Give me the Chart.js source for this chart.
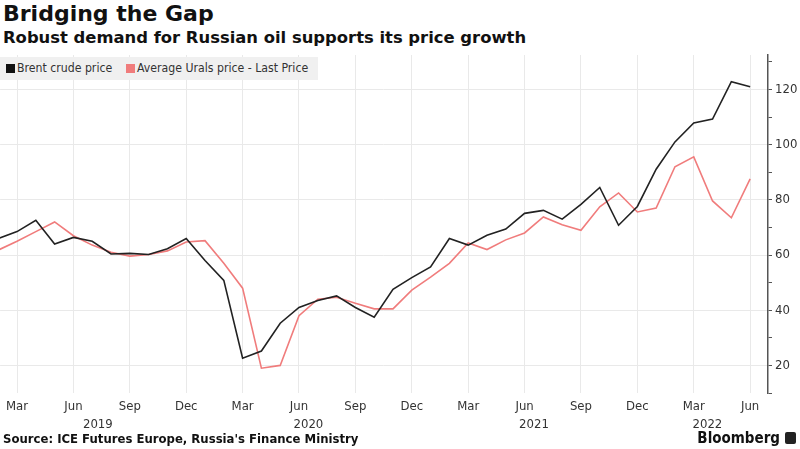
<!DOCTYPE html>
<html>
<head>
<meta charset="utf-8">
<script src="https://cdn.jsdelivr.net/npm/chart.js@4"></script>
<style>
  body { margin: 0; width: 800px; height: 449px; background: #fff; position: relative; overflow: hidden; font-family: 'DejaVu Sans', sans-serif; }
  #title { position: absolute; left: 3px; top: 1px; font-size: 22px; font-weight: bold; color: #111; }
  #subtitle { position: absolute; left: 3px; top: 28px; font-size: 16.4px; font-weight: bold; color: #111; }
  #chartBox { position: absolute; left: 0; top: 50px; width: 800px; height: 383px; }
  #legend { position: absolute; left: 0; top: 57px; width: 318px; height: 23px; background: #f0f0f0; font-family: 'DejaVu Sans Condensed', 'DejaVu Sans', sans-serif; font-size: 12.2px; color: #333; }
  .item { position: absolute; top: 4px; }
  .sw { display: inline-block; width: 9px; height: 9px; margin-right: 2px; vertical-align: -1px; }
  #source { position: absolute; left: 3px; top: 432px; font-size: 11.7px; font-weight: bold; color: #111; }
  #brand { position: absolute; right: 4px; top: 429px; font-family: 'DejaVu Sans Condensed', 'DejaVu Sans', sans-serif; font-size: 15px; font-weight: bold; color: #111; }
  #brand span { display: inline-block; width: 11px; height: 12px; background: #222; border-radius: 2px; margin-left: 5px; vertical-align: -1px; }
</style>
</head>
<body>
<div id="title">Bridging the Gap</div>
<div id="subtitle">Robust demand for Russian oil supports its price growth</div>
<div id="chartBox"><canvas id="chart"></canvas></div>
<div id="legend">
  <div class="item" style="left:6px"><span class="sw" style="background:#111"></span>Brent crude price</div>
  <div class="item" style="left:126px"><span class="sw" style="background:#f07c7c"></span>Average Urals price - Last Price</div>
</div>
<div id="source">Source: ICE Futures Europe, Russia's Finance Ministry</div>
<div id="brand">Bloomberg<span></span></div>

<script>
// monthly, Feb 2019 .. Jun 2022
const months = [
  '2019-02','2019-03','2019-04','2019-05','2019-06','2019-07','2019-08','2019-09','2019-10','2019-11','2019-12',
  '2020-01','2020-02','2020-03','2020-04','2020-05','2020-06','2020-07','2020-08','2020-09','2020-10','2020-11','2020-12',
  '2021-01','2021-02','2021-03','2021-04','2021-05','2021-06','2021-07','2021-08','2021-09','2021-10','2021-11','2021-12',
  '2022-01','2022-02','2022-03','2022-04','2022-05','2022-06'
];
const brent = [
  66, 68.5, 72.6, 64, 66.4, 65, 60.4, 60.6, 60.2, 62.3, 66,
  58, 50.8, 22.6, 25.2, 35.3, 41, 43.5, 45.2, 41, 37.5, 47.6, 51.8,
  55.7, 66, 63.6, 67.2, 69.4, 75.1, 76.2, 73, 78.4, 84.5, 70.8, 77.6,
  91.1, 101, 107.9, 109.3, 122.8, 121
];
const urals = [
  61.8, 65, 68.5, 72, 67, 63.6, 61, 59.6, 60.2, 61.5, 64.7,
  65.2, 57, 48, 19, 20, 38, 44, 44.7, 42.5, 40.5, 40.5, 47.3,
  52, 57, 64.4, 62, 65.5, 68, 73.8, 71, 69, 77.5, 82.5, 75.6,
  77, 92, 95.6, 79.6, 73.5, 87.6
];
const monthNames = ['Jan','Feb','Mar','Apr','May','Jun','Jul','Aug','Sep','Oct','Nov','Dec'];
const yTicks = [10, 20, 30, 40, 50, 60, 70, 80, 90, 100, 110, 120, 130];

// x = months since Jan 2019
const idx = m => (parseInt(m.slice(0, 4)) - 2019) * 12 + parseInt(m.slice(5)) - 1;
const xMin = 1.1, xMax = 41.95;

const quarterTicks = months.map(idx).filter(i => i % 3 === 2);
const years = [...new Set(months.map(m => m.slice(0, 4)))];
const yearTicks = years.map(y => {
  const a = Math.max(xMin, (y - 2019) * 12 - 0.5);
  const b = Math.min(xMax, (y - 2019) * 12 + 11.5);
  return { value: (a + b) / 2, label: y };
});

const fontAxis = { family: "'DejaVu Sans Condensed', 'DejaVu Sans', sans-serif", size: 13 };

new Chart(document.getElementById('chart'), {
  type: 'line',
  data: {
    datasets: [
      { label: 'Brent crude price', data: months.map((m, i) => ({ x: idx(m), y: brent[i] })),
        borderColor: '#222', borderWidth: 1.6, pointRadius: 0, tension: 0 },
      { label: 'Average Urals price - Last Price', data: months.map((m, i) => ({ x: idx(m), y: urals[i] })),
        borderColor: '#f07c7c', borderWidth: 1.6, pointRadius: 0, tension: 0 }
    ]
  },
  options: {
    responsive: true,
    maintainAspectRatio: false,
    animation: false,
    layout: { padding: { top: 5, left: 0, right: 0, bottom: 0 } },
    plugins: { legend: { display: false }, tooltip: { enabled: false } },
    scales: {
      x: {
        type: 'linear', position: 'bottom', min: xMin, max: xMax, weight: 0,
        afterBuildTicks: s => { s.ticks = quarterTicks.map(v => ({ value: v })); },
        afterFit: s => { s.height = 22; },
        ticks: { autoSkip: false, maxRotation: 0, padding: 6, color: '#333', font: fontAxis,
          callback: v => monthNames[((v % 12) + 12) % 12] },
        grid: { color: '#e9e9e9', lineWidth: 1, drawTicks: false },
        border: { display: false }
      },
      xYear: {
        type: 'linear', position: 'bottom', min: xMin, max: xMax, weight: 1,
        afterBuildTicks: s => { s.ticks = yearTicks.map(t => ({ value: t.value })); },
        afterFit: s => { s.height = 18; },
        ticks: { autoSkip: false, maxRotation: 0, padding: 2, color: '#333', font: fontAxis,
          callback: v => (yearTicks.find(t => Math.abs(t.value - v) < 1e-6) || {}).label },
        grid: { display: false, drawTicks: false },
        border: { display: false }
      },
      y: {
        position: 'right', min: 10, max: 132.5,
        afterBuildTicks: s => { s.ticks = yTicks.map(v => ({ value: v })); },
        afterFit: s => { s.width = 32; s.paddingTop = 0; },
        ticks: { padding: 3, color: '#333', font: fontAxis,
          callback: v => v % 20 === 0 ? v : '' },
        grid: { color: c => c.tick && c.tick.value % 20 === 0 ? '#e9e9e9' : 'rgba(0,0,0,0)',
          tickColor: '#555', tickLength: 4, lineWidth: 1 },
        border: { display: true, color: '#555', width: 1.5 }
      }
    }
  }
});
</script>
</body>
</html>
